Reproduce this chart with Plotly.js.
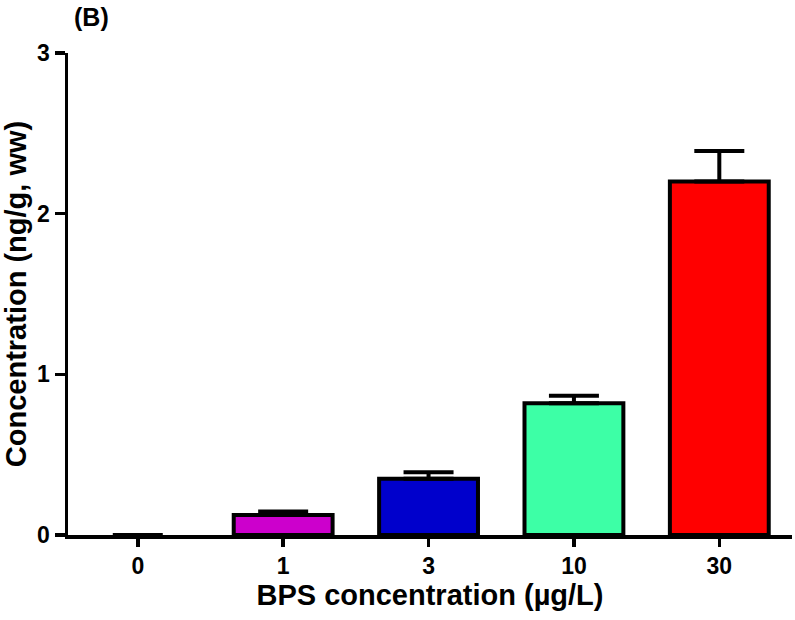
<!DOCTYPE html>
<html>
<head>
<meta charset="utf-8">
<script src="https://cdn.plot.ly/plotly-3.0.1.min.js"></script>
<style>html,body{margin:0;padding:0;background:#fff;}#chart{width:795px;height:620px;}</style>
</head>
<body>
<div id="chart"></div>
<script>
const categories = ["0", "1", "3", "10", "30"];
const means = [0, 0.125, 0.35, 0.82, 2.2];
const errors = [0, 0.022, 0.04, 0.047, 0.19];
const barColors = ["#FFFFFF", "#CC00CC", "#0000CC", "#3DFFA6", "#FF0000"];
const yTicks = [0, 1, 2, 3];

const FONT = "Liberation Sans, Arial, sans-serif";

const trace = {
  type: "bar",
  x: categories,
  y: means,
  width: 0.68,
  marker: {
    color: barColors,
    line: { color: "#000", width: means.map(v => v > 0 ? 4 : 0) }
  },
  error_y: {
    type: "data",
    symmetric: false,
    array: errors,
    arrayminus: errors.map(() => 0),
    color: "#000",
    thickness: 4,
    width: 25
  },
  hoverinfo: "none"
};

const layout = {
  width: 795,
  height: 620,
  margin: { l: 68, r: 3, t: 53, b: 85 },
  paper_bgcolor: "#fff",
  plot_bgcolor: "#fff",
  showlegend: false,
  bargap: 0.32,
  font: { family: FONT, color: "#000" },
  xaxis: {
    type: "category",
    range: [-0.48, 4.5],
    showline: true,
    linecolor: "#000",
    linewidth: 3.5,
    ticks: "outside",
    ticklen: 8,
    tickwidth: 3.5,
    tickcolor: "#000",
    showgrid: false,
    zeroline: false,
    tickfont: { family: FONT, size: 23, color: "#000", weight: "bold" },
    title: { text: "<b>BPS concentration (µg/L)</b>", font: { family: FONT, size: 29, color: "#000" }, standoff: 2 },
    fixedrange: true
  },
  yaxis: {
    range: [0, 3],
    tickvals: yTicks,
    ticktext: yTicks.map(String),
    showline: true,
    linecolor: "#000",
    linewidth: 3.5,
    ticks: "outside",
    ticklen: 10,
    tickwidth: 3.5,
    tickcolor: "#000",
    showgrid: false,
    zeroline: false,
    tickfont: { family: FONT, size: 23, color: "#000", weight: "bold" },
    title: { text: "<b>Concentration (ng/g, ww)</b>", font: { family: FONT, size: 29, color: "#000" }, standoff: 10 },
    fixedrange: true
  },
  annotations: [{
    xref: "paper", yref: "paper",
    x: 0.006, y: 1.075,
    xanchor: "left", yanchor: "middle",
    text: "<b>(B)</b>",
    showarrow: false,
    font: { family: FONT, size: 25, color: "#000" }
  }]
};

Plotly.newPlot("chart", [trace], layout, { staticPlot: true, displayModeBar: false });
</script>
</body>
</html>
